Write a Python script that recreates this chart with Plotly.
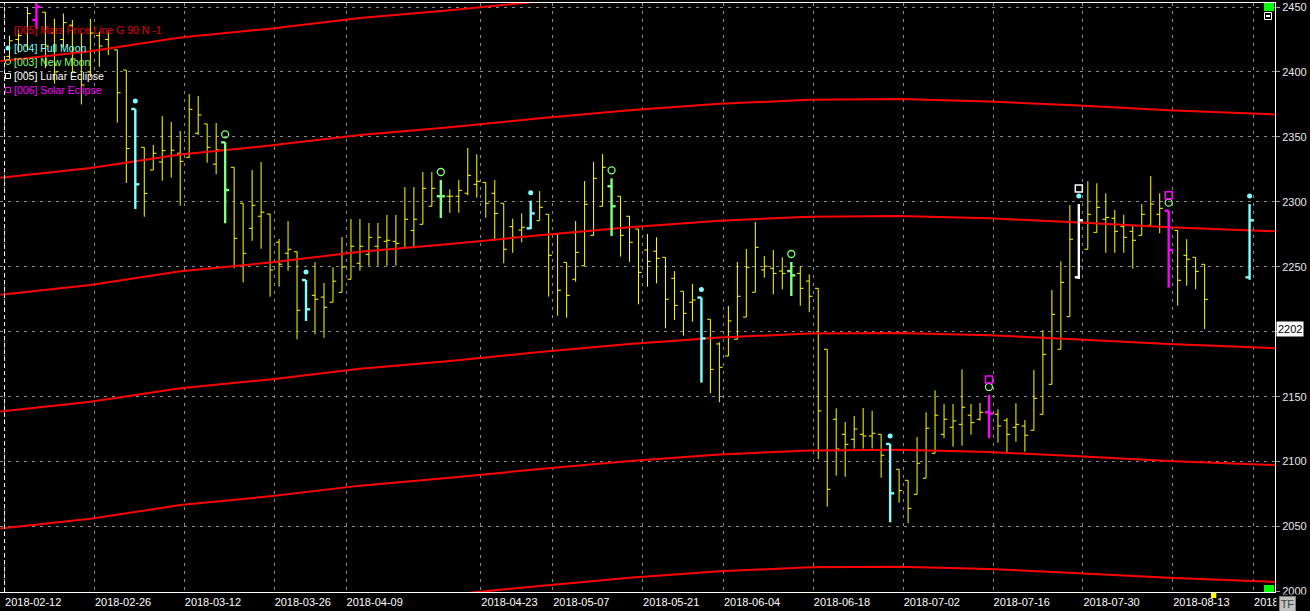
import plotly.graph_objects as go

# ---------------- data ----------------
bar_idx = list(range(1, 135)) + [139]
opens = [2412, 2425, 2420, 2440, 2446, 2430, 2425, 2436, 2415, 2400, 2428, 2425, 2417, 2401.5, 2371.5,
         2342, 2324.5, 2330.7, 2335, 2337.4, 2334.3, 2352.8, 2360, 2329, 2345.8, 2326.6, 2298.9, 2279.6, 2288.9, 2290.6,
         2268.9, 2260.4, 2261.6, 2239.8, 2228, 2226.7, 2222.7, 2230.3, 2240.4, 2252.7, 2259.6, 2265.8, 2269.6, 2269.6, 2264.7,
         2278, 2282.7, 2296.6, 2304.3, 2304.3, 2304.3, 2306.6, 2313.5, 2315, 2306.6, 2298.9, 2280.9, 2278.3, 2279.6, 2285.5,
         2290.4, 2275, 2253.4, 2240.4, 2250.8, 2274.2, 2296.6, 2312, 2304.3, 2288.9, 2279, 2262.9, 2262, 2257.3, 2241.1,
         2231.1, 2222.7, 2226.3, 2209.6, 2190.6, 2181.3, 2194.2, 2211.3, 2230.4, 2247.5, 2248.8, 2246.7, 2246.7, 2244.9, 2239,
         2233.4, 2186.5, 2132.6, 2121, 2117.2, 2121, 2119.7, 2121, 2113.6, 2094.1, 2085.6, 2074.8, 2087.2, 2106.4, 2121,
         2126.4, 2128.7, 2135.7, 2132.6, 2138, 2136.4, 2131.8, 2126.4, 2127.4, 2124.1, 2136.4, 2159.5, 2186.5, 2211.6, 2241.9,
         2263.5, 2276.5, 2286.6, 2287.3, 2280.9, 2277.3, 2274.2, 2281.9, 2290.4, 2293.2, 2278, 2258.8, 2257.3, 2251.9,
         2241.9]
highs = [2428, 2432, 2450, 2462, 2446, 2441, 2445, 2440, 2430, 2441, 2431, 2431, 2417, 2401.5, 2371.5,
         2342, 2343.8, 2366, 2361.5, 2354.5, 2383, 2381.5, 2360, 2360.7, 2345.8, 2326.6, 2298.9, 2324.5, 2330.7, 2290.6,
         2271.4, 2285.2, 2261.6, 2239.8, 2253.5, 2237.5, 2249.6, 2272.9, 2286.8, 2286.8, 2283.7, 2283.7, 2289.9, 2289.9, 2311.4,
         2311.4, 2323, 2323, 2316.8, 2309.6, 2316.8, 2341.4, 2336.6, 2315, 2316.8, 2298.9, 2287, 2291.1, 2300.9, 2308.3,
         2290.4, 2275, 2253.4, 2285.2, 2316, 2330.7, 2336.8, 2318.1, 2304.3, 2288.9, 2279, 2275.2, 2272.7, 2257.3, 2246.7,
         2231.1, 2236.7, 2226.3, 2209.6, 2191.9, 2219.8, 2253.7, 2263.7, 2284.5, 2258.3, 2262.9, 2257.3, 2253.7, 2250.4, 2244.2,
         2233.4, 2186.5, 2141, 2130.5, 2135.1, 2141.3, 2139, 2121, 2113.6, 2094.1, 2085.6, 2118.9, 2138, 2154.9, 2144.4,
         2144.4, 2171, 2144.4, 2145.1, 2151.3, 2140.3, 2133.6, 2144.9, 2132, 2170.5, 2201.3, 2232.1, 2254.2, 2297.6, 2298.3,
         2315.8, 2314.3, 2306.6, 2293.7, 2290, 2281.4, 2298.3, 2319.9, 2306.6, 2293.2, 2278, 2271.2, 2257.3, 2251.9,
         2298.3]
lows = [2410, 2415, 2417, 2433, 2403, 2391, 2419, 2400, 2375, 2396, 2404, 2413, 2361, 2314.5, 2294.5,
        2288.5, 2324.5, 2316.3, 2318.6, 2297, 2334, 2351.5, 2330.1, 2321.2, 2283.5, 2248.8, 2238, 2270, 2263.9, 2227,
        2234.7, 2247, 2194.2, 2208.3, 2198, 2195.4, 2222.7, 2230.3, 2240.4, 2247, 2250.8, 2250.8, 2250.8, 2250.8, 2264.7,
        2264.7, 2282.7, 2296.6, 2287.6, 2291.6, 2291.6, 2305, 2303.2, 2287.8, 2270.4, 2252.7, 2260.8, 2268.9, 2279, 2285.5,
        2227, 2212.3, 2210.8, 2238.5, 2250.8, 2274.2, 2296.6, 2273.7, 2257.8, 2253.9, 2221.1, 2234.7, 2237.3, 2202.6, 2209,
        2197, 2207.7, 2160.8, 2152.6, 2145.7, 2181.3, 2194.2, 2211.3, 2230.4, 2241.6, 2228.8, 2232.7, 2227.5, 2220, 2215,
        2101.8, 2065.3, 2089.2, 2088.4, 2110, 2110, 2110, 2087.6, 2053.3, 2068.4, 2052.5, 2074.8, 2087.2, 2106.4, 2118.2,
        2111.5, 2112.3, 2120.7, 2131.5, 2118, 2114.6, 2106.4, 2115.3, 2107.6, 2124.1, 2136.4, 2159.5, 2186.5, 2211.6, 2240.6,
        2263.5, 2276.5, 2260.8, 2260.8, 2260.8, 2248.5, 2274.2, 2281.9, 2275.8, 2233.9, 2220, 2235.4, 2232.7, 2201.9,
        2240]
closes = [2424, 2428, 2445, 2450, 2420, 2400, 2438, 2410, 2390, 2430, 2420, 2418, 2384, 2341, 2313.5,
          2306.5, 2337.4, 2339.4, 2339.7, 2331.2, 2371.2, 2366.9, 2342, 2340, 2309.1, 2271.9, 2260.4, 2297.3, 2292, 2247.5,
          2252, 2263.5, 2216.5, 2217.3, 2225, 2218.8, 2238.9, 2249.8, 2265.8, 2265.8, 2272.7, 2272.7, 2270.4, 2268, 2286.6,
          2286.6, 2310.4, 2310.4, 2304.3, 2304.3, 2308.9, 2320.4, 2315.8, 2298.9, 2291.1, 2263.5, 2272.7, 2280.4, 2291.1, 2295.8,
          2258.8, 2231.9, 2228, 2261.1, 2298.1, 2318.1, 2326.6, 2296.6, 2274.2, 2268.9, 2245.7, 2254.2, 2256.5, 2225, 2220.3,
          2214.2, 2224.4, 2194.9, 2171, 2172.6, 2208.3, 2227.3, 2249.6, 2265, 2250.4, 2244.9, 2244.9, 2243.4, 2233.4, 2227.3,
          2139, 2078.7, 2109.7, 2113.3, 2125.1, 2119.7, 2121.8, 2104.9, 2075.6, 2077.6, 2064, 2098.7, 2125.7, 2135.7, 2132.6,
          2131.3, 2141.8, 2130, 2138, 2137, 2127.4, 2121, 2128.7, 2120.3, 2148.7, 2182.6, 2213.4, 2238, 2271.2, 2285.8,
          2290.4, 2295.8, 2288, 2277.3, 2272.7, 2270.4, 2290.4, 2298.3, 2295, 2262.9, 2239.6, 2255.8, 2246.5, 2224.9,
          2285.8]

full_moon_idx = [15, 34, 59, 78, 99, 120, 139]
new_moon_idx = [4, 25, 49, 68, 88, 110, 130]
lunar_eclipse_idx = [120]
solar_eclipse_idx = [4, 110, 130]

mars_idx = [0, 10, 20, 30, 40, 50, 60, 70, 80, 90, 100, 110, 120, 130, 142]
mars_base = [2138.5, 2146, 2156.5, 2163.3, 2171.5, 2177.5, 2184.3, 2190.5, 2195.5, 2198.6,
             2199.1, 2197.3, 2194.1, 2190.5, 2187.3]
mars_offsets = [-180, -90, 0, 90, 180, 270]

tick_bar_idx = [1, 11, 21, 31, 39, 54, 62, 72, 81, 91, 101, 111, 121, 131, 140]
tick_labels = ["2018-02-12", "2018-02-26", "2018-03-12", "2018-03-26", "2018-04-09", "2018-04-23",
               "2018-05-07", "2018-05-21", "2018-06-04", "2018-06-18", "2018-07-02", "2018-07-16",
               "2018-07-30", "2018-08-13", "2018-08-27"]
price_ticks = [2000, 2050, 2100, 2150, 2200, 2250, 2300, 2350, 2400, 2450]
last_price = 2202
current_bar = 135

legend_items = [
    ("[005] Mars Price Line G 90 N -1", "#e00000", None),
    ("[004] Full Moon", "#80ffff", "dot"),
    ("[003] New Moon", "#80ff80", "circle"),
    ("[005] Lunar Eclipse", "#ffffff", "square"),
    ("[006] Solar Eclipse", "#ff00ff", "square"),
]

# ---------------- styling ----------------
FONT = "Liberation Sans, Arial, sans-serif"
YELLOW = "#ffff00"
CYAN = "#80ffff"
GREEN = "#80ff80"
WHITE = "#ffffff"
MAGENTA = "#ff00ff"
RED = "#ff0000"
X_RANGE = [-0.056, 141.83]
Y_RANGE = [1999.6, 2453.1]
W, H = 1310, 611
ML, MR, MT, MB = 0, 33, 3, 19
PW, PH = W - ML - MR, H - MT - MB
PX_PER_UNIT = PH / (Y_RANGE[1] - Y_RANGE[0])


def px(x):
    return (x - ML) / PW


def py(y):
    return 1 - (y - MT) / PH


def bar_color(i):
    if i in solar_eclipse_idx:
        return MAGENTA
    if i in lunar_eclipse_idx:
        return WHITE
    if i in new_moon_idx:
        return GREEN
    if i in full_moon_idx:
        return CYAN
    return YELLOW


def segments(indices, tick):
    xs, ys = [], []
    for i in indices:
        k = bar_idx.index(i)
        o, h, l, c = opens[k], highs[k], lows[k], closes[k]
        xs += [i, i, None, i - tick, i, None, i, i + tick, None]
        ys += [l, h, None, o, o, None, c, c, None]
    return xs, ys


fig = go.Figure()

# yellow (ordinary) bars
plain = [i for i in bar_idx if bar_color(i) == YELLOW]
xs, ys = segments(plain, 0.36)
fig.add_trace(go.Scatter(x=xs, y=ys, mode="lines", line=dict(color=YELLOW, width=1),
                         hoverinfo="skip", connectgaps=False))

# Mars price lines
for off in mars_offsets:
    fig.add_trace(go.Scatter(x=mars_idx, y=[v + off for v in mars_base], mode="lines",
                             line=dict(color=RED, width=2), hoverinfo="skip"))

# coloured event bars
for col in [CYAN, GREEN, WHITE, MAGENTA]:
    sel = [i for i in bar_idx if bar_color(i) == col]
    if not sel:
        continue
    xs, ys = segments(sel, 0.45)
    fig.add_trace(go.Scatter(x=xs, y=ys, mode="lines", line=dict(color=col, width=2.4),
                             hoverinfo="skip"))

# event markers above the bars
GAP1 = 8 / PX_PER_UNIT
GAP2 = 15.5 / PX_PER_UNIT
mk = {"full": ([], []), "new": ([], []), "lunar": ([], []), "solar": ([], [])}
for i in bar_idx:
    hi = highs[bar_idx.index(i)]
    moon = None
    if i in full_moon_idx:
        mk["full"][0].append(i); mk["full"][1].append(hi + GAP1); moon = True
    if i in new_moon_idx:
        mk["new"][0].append(i); mk["new"][1].append(hi + GAP1); moon = True
    g = GAP2 if moon else GAP1
    if i in lunar_eclipse_idx:
        mk["lunar"][0].append(i); mk["lunar"][1].append(hi + g)
    if i in solar_eclipse_idx:
        mk["solar"][0].append(i); mk["solar"][1].append(hi + g)

fig.add_trace(go.Scatter(x=mk["full"][0], y=mk["full"][1], mode="markers",
                         marker=dict(symbol="circle", size=5, color=CYAN, line=dict(width=0)), hoverinfo="skip"))
fig.add_trace(go.Scatter(x=mk["new"][0], y=mk["new"][1], mode="markers",
                         marker=dict(symbol="circle-open", size=7, color=GREEN, line=dict(width=1.3)), hoverinfo="skip"))
fig.add_trace(go.Scatter(x=mk["lunar"][0], y=mk["lunar"][1], mode="markers",
                         marker=dict(symbol="square-open", size=7, color=WHITE, line=dict(width=1.5)), hoverinfo="skip"))
fig.add_trace(go.Scatter(x=mk["solar"][0], y=mk["solar"][1], mode="markers",
                         marker=dict(symbol="square-open", size=7, color=MAGENTA, line=dict(width=1.5)), hoverinfo="skip"))

shapes = []
# first (white) dashed separator at the first grid line
shapes.append(dict(type="line", xref="x", yref="paper", x0=tick_bar_idx[0] - 0.55, x1=tick_bar_idx[0] - 0.55,
                   y0=0, y1=1, line=dict(color="#ffffff", width=1, dash="4px,3px")))
# scale-corner boxes on the right edge
shapes.append(dict(type="rect", xref="paper", yref="paper", x0=px(1266), x1=px(1276), y0=py(11), y1=py(3),
                   fillcolor="#00ff00", line=dict(width=0)))
shapes.append(dict(type="rect", xref="paper", yref="paper", x0=px(1266.5), x1=px(1273.5), y0=py(19.5), y1=py(12.5),
                   fillcolor="#000000", line=dict(color="#ffffff", width=1)))
shapes.append(dict(type="line", xref="paper", yref="paper", x0=px(1268), x1=px(1272), y0=py(16), y1=py(16),
                   line=dict(color="#ffffff", width=2)))
shapes.append(dict(type="rect", xref="paper", yref="paper", x0=px(1266), x1=px(1276), y0=py(592), y1=py(585),
                   fillcolor="#00ff00", line=dict(width=0)))
# current bar marker on the time axis
shapes.append(dict(type="rect", xref="x", yref="paper", x0=current_bar - 0.3, x1=current_bar + 0.3,
                   y0=py(598), y1=py(593), fillcolor="#ffff00", line=dict(width=0)))

# legend markers
leg_y = [30, 48, 62, 76, 90]
for (txt, col, sym), yc in zip(legend_items, leg_y):
    if sym == "dot":
        shapes.append(dict(type="circle", xref="paper", yref="paper", x0=px(5.5), x1=px(10.5),
                           y0=py(yc + 2.5), y1=py(yc - 2.5), fillcolor=col, line=dict(width=0)))
    elif sym == "circle":
        shapes.append(dict(type="circle", xref="paper", yref="paper", x0=px(5.5), x1=px(10.5),
                           y0=py(yc + 2.5), y1=py(yc - 2.5), line=dict(color=col, width=1)))
    elif sym == "square":
        shapes.append(dict(type="rect", xref="paper", yref="paper", x0=px(5.5), x1=px(10.5),
                           y0=py(yc + 2.5), y1=py(yc - 2.5), line=dict(color=col, width=1)))

annotations = []
for (txt, col, sym), yc in zip(legend_items, leg_y):
    annotations.append(dict(text=txt, xref="paper", yref="paper", x=px(13), y=py(yc),
                            xanchor="left", yanchor="middle", showarrow=False,
                            font=dict(family=FONT, size=10.5, color=col), borderpad=0))
annotations.append(dict(text=str(last_price), xref="paper", yref="y", x=1, y=last_price, xanchor="left",
                        yanchor="middle", xshift=1, showarrow=False, bgcolor="#ffffff",
                        font=dict(family=FONT, size=11, color="#000000"), borderpad=1))
annotations.append(dict(text=" ", xref="paper", yref="paper", x=1, y=0, xanchor="left", yanchor="top",
                        xshift=1, yshift=-2, width=33, height=17, showarrow=False, bgcolor="#000000", borderpad=0))
annotations.append(dict(text="TF", xref="paper", yref="paper", x=px(1281), y=py(596), xanchor="left",
                        yanchor="top", showarrow=False, bgcolor="#c0c0c0", bordercolor="#808080",
                        font=dict(family=FONT, size=11, color="#404040"), borderpad=0, width=15, height=14))

# price labels: the last-price box takes the place of the nearest round label
price_text = ["" if abs(v - last_price) < 10 else str(v) for v in price_ticks]

fig.update_layout(
    width=W, height=H, margin=dict(l=ML, r=MR, t=MT, b=MB, pad=0),
    paper_bgcolor="#000000", plot_bgcolor="#000000", showlegend=False,
    font=dict(family=FONT, size=11, color="#ffffff"),
    shapes=shapes, annotations=annotations,
)
fig.update_xaxes(range=X_RANGE, tickmode="array", tickvals=[t - 0.55 for t in tick_bar_idx], ticktext=tick_labels,
                 ticklabelposition="outside right", ticklabeloverflow="allow", ticks="", showgrid=True,
                 gridcolor="#8a8a8a", griddash="3px,5px",
                 gridwidth=1, zeroline=False, showline=True, linecolor="#ffffff", linewidth=1, mirror=True,
                 tickfont=dict(family=FONT, size=11, color="#ffffff"), fixedrange=True)
fig.update_yaxes(side="right", range=Y_RANGE, tickmode="array", tickvals=price_ticks,
                 ticktext=price_text, ticks="outside", ticklen=4, tickcolor="#a0a0a0",
                 showgrid=True, gridcolor="#8a8a8a", griddash="3px,5px", gridwidth=1, zeroline=False,
                 showline=True, linecolor="#ffffff", linewidth=1,
                 tickfont=dict(family=FONT, size=11, color="#e8e8e8"), fixedrange=True)

fig.write_html("out.html", config={"displayModeBar": False},
               post_script="document.body.style.margin='0';document.body.style.padding='0';"
                           "document.body.style.background='#000';")
